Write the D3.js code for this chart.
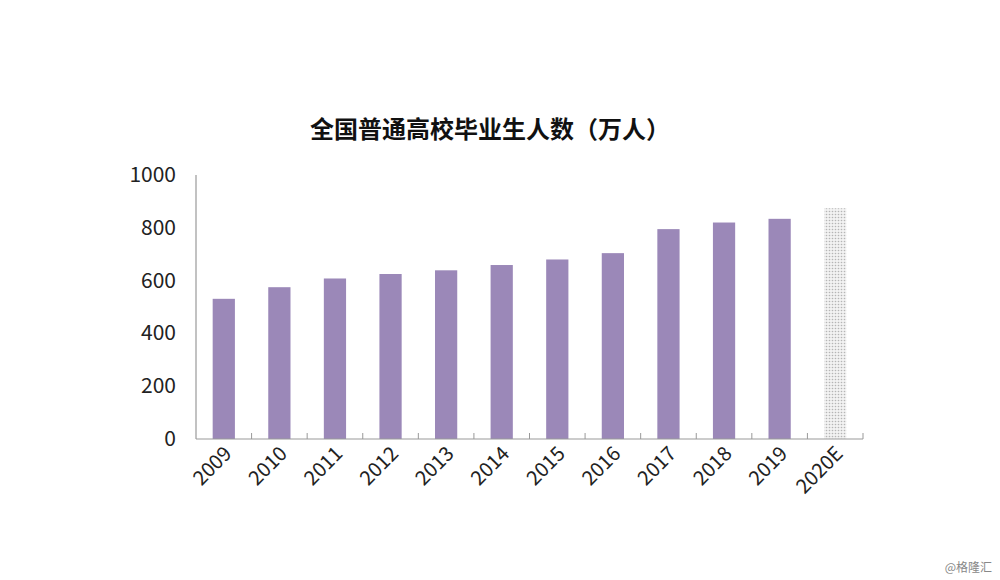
<!DOCTYPE html>
<html><head><meta charset="utf-8">
<script src="https://cdn.jsdelivr.net/npm/d3@7"></script>
<style>body{margin:0;background:#fff}</style>
</head><body><svg id="c"></svg>
<script>
var years = ["2009","2010","2011","2012","2013","2014","2015","2016","2017","2018","2019","2020E"];
var graduates = [531, 575, 608, 625, 639, 659, 680, 704, 795, 820, 834, 874];
var yTicks = [0, 200, 400, 600, 800, 1000];

var width = 1000, height = 580;
var svg = d3.select("#c").attr("width", width).attr("height", height);
var font = "'Noto Sans CJK SC', 'Liberation Sans', sans-serif";

var defs = svg.append("defs");
var pat = defs.append("pattern").attr("id", "dots").attr("patternUnits", "userSpaceOnUse")
  .attr("width", 3).attr("height", 3);
pat.append("rect").attr("width", 3).attr("height", 3).attr("fill", "#f2f2f2");
pat.append("circle").attr("cx", 1.5).attr("cy", 1.5).attr("r", 0.8).attr("fill", "#b5b5b5");

var x = d3.scaleBand().domain(years).range([196, 863]).paddingInner(0.6).paddingOuter(0.3);
var y = d3.scaleLinear().domain([0, 1000]).range([439, 175]);

svg.append("text").attr("x", 490).attr("y", 138).attr("text-anchor", "middle")
  .attr("font-family", font).attr("font-size", 24).attr("font-weight", "bold").attr("fill", "#111")
  .text("全国普通高校毕业生人数（万人）");

svg.selectAll(".bar").data(years).enter().append("rect")
  .attr("x", function(d) { return x(d); })
  .attr("width", x.bandwidth())
  .attr("y", function(d, i) { return y(graduates[i]); })
  .attr("height", function(d, i) { return y(0) - y(graduates[i]); })
  .attr("fill", function(d) { return d === "2020E" ? "url(#dots)" : "#9b88b8"; });

// y axis
svg.append("line").attr("x1", 196).attr("x2", 196).attr("y1", 175).attr("y2", 439)
  .attr("stroke", "#999").attr("stroke-width", 1.2);
svg.selectAll(".yl").data(yTicks).enter().append("text")
  .attr("x", 176).attr("y", function(d) { return y(d) + 7; })
  .attr("text-anchor", "end").attr("font-family", font).attr("font-size", 21).attr("fill", "#222")
  .text(function(d) { return d; });

// x axis
svg.append("line").attr("x1", 196).attr("x2", 863).attr("y1", 439).attr("y2", 439)
  .attr("stroke", "#999").attr("stroke-width", 1.2);
var step = x.step();
svg.selectAll(".xt").data(years).enter().append("line")
  .attr("x1", function(d) { return x(d) - x.bandwidth() * 0.75 + step; })
  .attr("x2", function(d) { return x(d) - x.bandwidth() * 0.75 + step; })
  .attr("y1", 439).attr("y2", 433).attr("stroke", "#999");
svg.selectAll(".xl").data(years).enter().append("text")
  .attr("transform", function(d) { return "translate(" + (x(d) + x.bandwidth() / 2 + 9) + ",455) rotate(-45)"; })
  .attr("text-anchor", "end").attr("font-family", font).attr("font-size", 20).attr("fill", "#222")
  .text(function(d) { return d; });

svg.append("text").attr("x", 992).attr("y", 572).attr("text-anchor", "end")
  .attr("font-family", font).attr("font-size", 12).attr("fill", "#888").text("@格隆汇");
</script>
</body></html>
